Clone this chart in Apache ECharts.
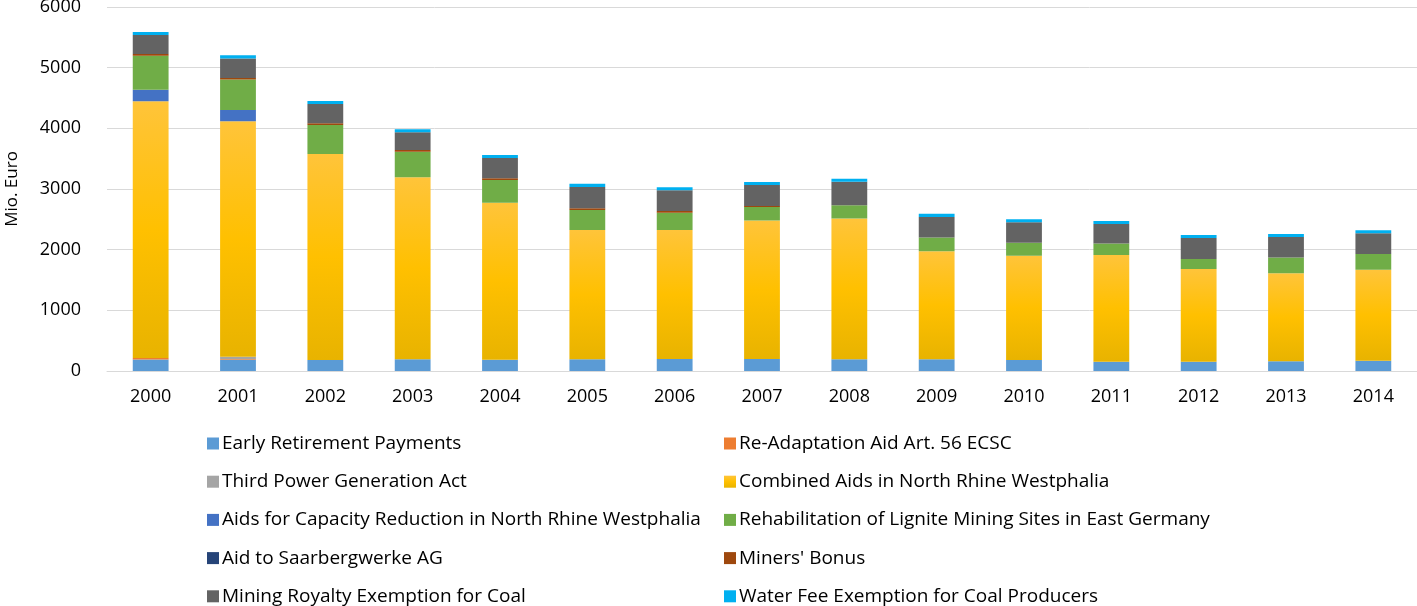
<!DOCTYPE html>
<html>
<head>
<meta charset="utf-8">
<script src="https://cdn.jsdelivr.net/npm/echarts@6/dist/echarts.min.js"></script>
<style>
  html, body { margin: 0; padding: 0; background: #fff; }
  #chart { width: 1417px; height: 606px; }
</style>
</head>
<body>
<div id="chart"></div>
<script>
const years = ['2000', '2001', '2002', '2003', '2004', '2005', '2006', '2007', '2008', '2009', '2010', '2011', '2012', '2013', '2014']

// values in Mio. Euro
const earlyRetirement = [190, 180, 180, 193, 186, 193, 198, 198, 193, 193, 181, 154, 154, 160, 170]
const reAdaptation = [25, 15, 0, 0, 0, 0, 0, 0, 0, 0, 0, 0, 0, 0, 0]
const thirdPower = [0, 40, 0, 0, 0, 0, 0, 0, 0, 0, 0, 0, 0, 0, 0]
const combinedNRW = [4230, 3880, 3397, 3001, 2589, 2132, 2127, 2281, 2320, 1781, 1720, 1759, 1528, 1451, 1500]
const capacityReduction = [190, 188, 0, 0, 0, 0, 0, 0, 0, 0, 0, 0, 0, 0, 0]
const rehabLignite = [560, 500, 478, 418, 374, 330, 285, 226, 220, 225, 214, 187, 165, 258, 258]
const saarbergwerke = [0, 0, 0, 0, 0, 0, 0, 0, 0, 0, 0, 0, 0, 0, 0]
const minersBonus = [30, 25, 28, 30, 28, 28, 28, 16, 0, 0, 0, 0, 0, 0, 0]
const miningRoyalty = [313, 325, 318, 292, 335, 352, 341, 346, 385, 341, 335, 324, 346, 341, 341]
const waterFee = [50, 50, 50, 50, 50, 50, 50, 50, 50, 50, 50, 50, 50, 50, 50]

const seriesDefs = [
  { name: 'Early Retirement Payments', data: earlyRetirement, color: '#5B9BD5' },
  { name: 'Re-Adaptation Aid Art. 56 ECSC', data: reAdaptation, color: '#ED7D31' },
  { name: 'Third Power Generation Act', data: thirdPower, color: '#A5A5A5' },
  { name: 'Combined Aids in North Rhine Westphalia', data: combinedNRW, color: '#FFC000' },
  { name: 'Aids for Capacity Reduction in North Rhine Westphalia', data: capacityReduction, color: '#4472C4' },
  { name: 'Rehabilitation of Lignite Mining Sites in East Germany', data: rehabLignite, color: '#70AD47' },
  { name: 'Aid to Saarbergwerke AG', data: saarbergwerke, color: '#264478' },
  { name: "Miners' Bonus", data: minersBonus, color: '#9E480E' },
  { name: 'Mining Royalty Exemption for Coal', data: miningRoyalty, color: '#636363' },
  { name: 'Water Fee Exemption for Coal Producers', data: waterFee, color: '#00B0F0' },
]

const font = 'Open Sans'
const chart = echarts.init(document.getElementById('chart'))

const legendCommon = {
  orient: 'vertical',
  top: 434,
  padding: 0,
  itemWidth: 12,
  itemHeight: 12,
  itemGap: 19.2,
  icon: 'rect',
  textStyle: { fontFamily: font, fontSize: 19, lineHeight: 19, color: '#000', padding: [0, 0, 0, -2] },
}

const option = {
  animation: false,
  legend: [
    Object.assign({}, legendCommon, { left: 207, data: seriesDefs.filter((s, i) => i % 2 === 0).map(s => s.name) }),
    Object.assign({}, legendCommon, { left: 724, data: seriesDefs.filter((s, i) => i % 2 === 1).map(s => s.name) }),
  ],
  grid: { left: 107, right: 0, top: 7, bottom: 235, outerBoundsMode: 'none' },
  xAxis: {
    type: 'category',
    data: years,
    axisLine: { lineStyle: { color: '#D9D9D9', width: 1 } },
    axisTick: { show: false },
    axisLabel: { fontFamily: font, fontSize: 18, color: '#000', margin: 17 },
  },
  yAxis: {
    type: 'value',
    min: 0,
    max: 6000,
    interval: 1000,
    name: 'Mio. Euro',
    nameLocation: 'middle',
    nameGap: 86,
    nameTextStyle: { fontFamily: font, fontSize: 17, color: '#000' },
    axisLine: { show: false },
    axisTick: { show: false },
    axisLabel: {
      fontFamily: font, fontSize: 18, color: '#000', margin: 26,
      formatter: function (value) {
        return value.toString()
      },
    },
    splitLine: { lineStyle: { color: '#D9D9D9', width: 1 } },
  },
  series: seriesDefs.map(s => ({
    name: s.name,
    type: 'bar',
    stack: 'total',
    barWidth: '41%',
    data: s.data,
    itemStyle: {
      color: s.name.startsWith('Combined')
        ? new echarts.graphic.LinearGradient(0, 0, 0, 1, [
            { offset: 0, color: '#FFC43A' },
            { offset: 0.5, color: '#FFC000' },
            { offset: 1, color: '#E8B300' },
          ])
        : s.color,
    },
  })),
}
option.series.forEach((s, i) => { s.color = seriesDefs[i].color })

chart.setOption(option)
</script>
</body>
</html>
